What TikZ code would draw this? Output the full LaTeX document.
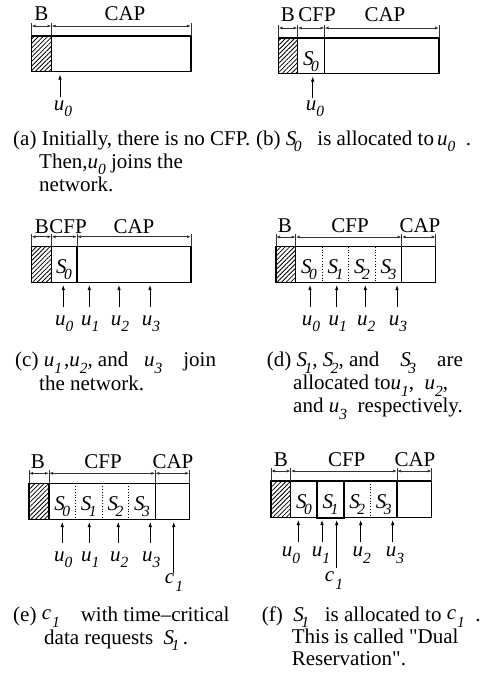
\documentclass[tikz,border=0pt]{standalone}
\usepackage{fontspec}
\setmainfont{Liberation Serif}
\newfontfamily\qfont{Liberation Serif}[Ligatures=TeXOff]
\usetikzlibrary{arrows.meta,patterns.meta}
\newcommand\sbx[1]{\raisebox{-0.3em}{\fontsize{15.5}{15.5}\selectfont\textit{#1}}}
\newcommand\vu[1]{\textit{u}\sbx{#1}}
\newcommand\vS[1]{\textit{S}\kern-2.5pt\sbx{#1}}
\newcommand\vc[1]{\raisebox{0.05em}{\textit{c}}\kern1pt\sbx{#1}}
\newcommand\dq{{\qfont"}}
\tikzset{
  frame/.style={draw=black, line width=1.1pt},
  thickframe/.style={draw=black, line width=2pt},
  hatch/.style={pattern={Lines[angle=45,distance=3.2pt,line width=0.8pt]}},
  ext/.style={draw=black!80, line width=0.8pt},
  dimarr/.style={draw=black!80, line width=0.8pt, {Latex[length=4pt,width=3pt]}-{Latex[length=4pt,width=3pt]}},
  uarr/.style={draw=black, line width=0.8pt, -{Latex[length=5pt,width=3.5pt]}},
  sepline/.style={draw=black, dotted, line width=0.8pt},
  lab/.style={inner sep=0pt, anchor=base, font=\fontsize{21}{23}\selectfont},
  captxt/.style={inner sep=0pt, anchor=base west, font=\fontsize{21}{23}\selectfont},
}
\begin{document}
\begin{tikzpicture}[x=1pt,y=-1pt]
\useasboundingbox[fill=white] (0,0) rectangle (485,686);

% ---------------- panel (a)
\fill[hatch] (31.5,36) rectangle (51.5,71.5);
\draw[frame] (31.5,36) rectangle (191,71.5);
\draw[frame] (51.5,36) -- (51.5,71.5);
\foreach \x in {31.5,51.5,191} \draw[ext] (\x,23) -- (\x,36);
\coordinate (a-d0) at (31.5,26);
\coordinate (a-d1) at (51.5,26);
\coordinate (a-d2) at (191,26);
\draw[dimarr] (a-d0) -- (a-d1);
\draw[dimarr] (a-d1) -- (a-d2);
\node[lab] (a-B) at (41.5,20) {B};
\node[lab] (a-CAP) at (125,20) {CAP};
\coordinate (a-h0) at (60,74.5);
\coordinate (a-t0) at (60,97);
\draw[uarr] (a-t0) -- (a-h0);
\node[lab] (a-u0) at (63,110) {\vu{0}};
\node[captxt] (a-c1) at (13,145) {(a) Initially, there is no CFP.};
\node[captxt] (a-c2) at (39,168) {Then,\vu{0} joins the};
\node[captxt] (a-c3) at (39,191) {network.};

% ---------------- panel (b)
\fill[hatch] (278.5,38) rectangle (297.5,73.5);
\draw[frame] (278.5,38) rectangle (439,73.5);
\draw[frame] (297.5,38) -- (297.5,73.5);
\draw[frame] (324.5,38) -- (324.5,73.5);
\foreach \x in {278.5,297.5,324.5,439} \draw[ext] (\x,25) -- (\x,38);
\coordinate (b-d0) at (278.5,28);
\coordinate (b-d1) at (297.5,28);
\coordinate (b-d2) at (324.5,28);
\coordinate (b-d3) at (439,28);
\draw[dimarr] (b-d0) -- (b-d1);
\draw[dimarr] (b-d1) -- (b-d2);
\draw[dimarr] (b-d2) -- (b-d3);
\node[lab] (b-B) at (288,21) {B};
\node[lab] (b-CFP) at (317,21) {CFP};
\node[lab] (b-CAP) at (385,21) {CAP};
\node[lab] (b-S0) at (311,65) {\vS{0}};
\coordinate (b-h0) at (312.7,76.5);
\coordinate (b-t0) at (312.7,98);
\draw[uarr] (b-t0) -- (b-h0);
\node[lab] (b-u0) at (315,110) {\vu{0}};
\node[captxt] (b-c1) at (256,145) {(b) \vS{0}\ \ \ is allocated to\kern3pt\vu{0}\ \ .};

% ---------------- panel (c)
\fill[hatch] (31.5,246.7) rectangle (51.5,282.7);
\draw[frame] (31.5,246.7) rectangle (191,282.7);
\draw[frame] (51.5,246.7) -- (51.5,282.7);
\draw[frame] (77,246.7) -- (77,282.7);
\foreach \x in {31.5,51.5,77,191} \draw[ext] (\x,233.7) -- (\x,246.7);
\coordinate (c-d0) at (31.5,236.7);
\coordinate (c-d1) at (51.5,236.7);
\coordinate (c-d2) at (77,236.7);
\coordinate (c-d3) at (191,236.7);
\draw[dimarr] (c-d0) -- (c-d1);
\draw[dimarr] (c-d1) -- (c-d2);
\draw[dimarr] (c-d2) -- (c-d3);
\node[lab] (c-B) at (42,233) {B};
\node[lab] (c-CFP) at (68,233) {CFP};
\node[lab] (c-CAP) at (134,233) {CAP};
\node[lab] (c-S0) at (64,273) {\vS{0}};
\foreach \i/\x in {0/63.3,1/89.3,2/119,3/150}{
  \coordinate (c-h\i) at (\x,285);
  \coordinate (c-t\i) at (\x,306.7);
  \draw[uarr] (c-t\i) -- (c-h\i);
  \node[lab] (c-u\i) at ({\x+1},325) {\vu{\i}};
}
\node[captxt] (c-c1) at (15,366.7) {(c) \vu{1}\kern2pt,\vu{2}, and\ \ \ \vu{3}\ \ \ \ join};
\node[captxt] (c-c2) at (39,390) {the network.};

% ---------------- panel (d)
\fill[hatch] (276,246.7) rectangle (295.7,282.7);
\draw[frame] (276,246.7) rectangle (435.7,282.7);
\draw[frame] (295.7,246.7) -- (295.7,282.7);
\draw[frame] (401.7,246.7) -- (401.7,282.7);
\foreach \x in {322.3,348.7,375.3} \draw[sepline] (\x,246.7) -- (\x,282.7);
\foreach \x in {276,295.7,401.7,435.7} \draw[ext] (\x,234) -- (\x,246.7);
\coordinate (d-d0) at (276,237);
\coordinate (d-d1) at (295.7,237);
\coordinate (d-d2) at (401.7,237);
\coordinate (d-d3) at (435.7,237);
\draw[dimarr] (d-d0) -- (d-d1);
\draw[dimarr] (d-d1) -- (d-d2);
\draw[dimarr] (d-d2) -- (d-d3);
\node[lab] (d-B) at (285,232) {B};
\node[lab] (d-CFP) at (350,232) {CFP};
\node[lab] (d-CAP) at (420,232) {CAP};
\foreach \i/\x in {0/309,1/335.5,2/362,3/388.5}
  \node[lab] (d-S\i) at (\x,273) {\vS{\i}};
\foreach \i/\x in {0/310,1/336.7,2/365.3,3/397}{
  \coordinate (d-h\i) at (\x,285);
  \coordinate (d-t\i) at (\x,306.7);
  \draw[uarr] (d-t\i) -- (d-h\i);
  \node[lab] (d-u\i) at ({\x+1},325) {\vu{\i}};
}
\node[captxt] (d-c1) at (266.7,366.7) {(d) \vS{1}, \vS{2}, and\ \ \ \ \vS{3}\ \ \ \ are};
\node[captxt] (d-c2) at (293,389.7) {allocated to\vu{1},\ \ \vu{2},};
\node[captxt] (d-c3) at (293,412.7) {and \vu{3}\ \ respectively.};

% ---------------- panel (e)
\fill[hatch] (29,483.3) rectangle (49,519.3);
\draw[frame] (29,483.3) rectangle (189.3,519.3);
\draw[frame] (49,483.3) -- (49,519.3);
\draw[frame] (155.3,483.3) -- (155.3,519.3);
\foreach \x in {75.3,102,128.7} \draw[sepline] (\x,483.3) -- (\x,519.3);
\foreach \x in {29,49,155.3,189.3} \draw[ext] (\x,470.3) -- (\x,483.3);
\coordinate (e-d0) at (29,473.3);
\coordinate (e-d1) at (49,473.3);
\coordinate (e-d2) at (155.3,473.3);
\coordinate (e-d3) at (189.3,473.3);
\draw[dimarr] (e-d0) -- (e-d1);
\draw[dimarr] (e-d1) -- (e-d2);
\draw[dimarr] (e-d2) -- (e-d3);
\node[lab] (e-B) at (38,468) {B};
\node[lab] (e-CFP) at (103,468) {CFP};
\node[lab] (e-CAP) at (173,468) {CAP};
\foreach \i/\x in {0/62.2,1/88.7,2/115.4,3/142}
  \node[lab] (e-S\i) at (\x,510) {\vS{\i}};
\foreach \i/\x in {0/62.3,1/89.3,2/118.3,3/150.3}{
  \coordinate (e-h\i) at (\x,522);
  \coordinate (e-t\i) at (\x,543);
  \draw[uarr] (e-t\i) -- (e-h\i);
  \node[lab] (e-u\i) at ({\x+1},561) {\vu{\i}};
}
\coordinate (e-hc) at (173.7,522);
\coordinate (e-tc) at (173.7,573);
\draw[uarr] (e-tc) -- (e-hc);
\node[lab] (e-c) at (174,585) {\vc{1}};
\node[captxt] (e-c1) at (13,621) {(e) \vc{1}\ \ \ \ with time--critical};
\node[captxt] (e-c2) at (44,644) {data requests\ \ \vS{1}\,.};

% ---------------- panel (f)
\fill[hatch] (271,481) rectangle (290.7,517.7);
\draw[frame] (271,481) rectangle (431.7,517.7);
\draw[frame] (290.7,481) -- (290.7,517.7);
\draw[frame] (397,481) -- (397,517.7);
\draw[sepline] (370.7,481) -- (370.7,517.7);
\draw[thickframe] (317.3,481) rectangle (344,517.7);
\foreach \x in {271,290.7,397,431.7} \draw[ext] (\x,468) -- (\x,481);
\coordinate (f-d0) at (271,471);
\coordinate (f-d1) at (290.7,471);
\coordinate (f-d2) at (397,471);
\coordinate (f-d3) at (431.7,471);
\draw[dimarr] (f-d0) -- (f-d1);
\draw[dimarr] (f-d1) -- (f-d2);
\draw[dimarr] (f-d2) -- (f-d3);
\node[lab] (f-B) at (281,466) {B};
\node[lab] (f-CFP) at (346.7,466) {CFP};
\node[lab] (f-CAP) at (415,466) {CAP};
\foreach \i/\x in {0/304,1/330.6,2/357.3,3/383.8}
  \node[lab] (f-S\i) at (\x,508.5) {\vS{\i}};
\foreach \i/\x/\l in {0/298.3/291,1/322/321,2/360.7/361.7,3/392.7/395}{
  \coordinate (f-h\i) at (\x,520);
  \coordinate (f-t\i) at (\x,541.7);
  \draw[uarr] (f-t\i) -- (f-h\i);
  \node[lab] (f-u\i) at (\l,556.7) {\vu{\i}};
}
\coordinate (f-hc) at (336.7,520);
\coordinate (f-tc) at (336.7,568);
\draw[uarr] (f-tc) -- (f-hc);
\node[lab] (f-c) at (334,583) {\vc{1}};
\node[captxt] (f-c1) at (261.7,621) {(f)\ \ \vS{1}\ \ \ is allocated to \vc{1}\ \ .};
\node[captxt] (f-c2) at (291.7,643) {This is called \dq Dual};
\node[captxt] (f-c3) at (291.7,665) {Reservation\dq.};
\end{tikzpicture}
\end{document}
